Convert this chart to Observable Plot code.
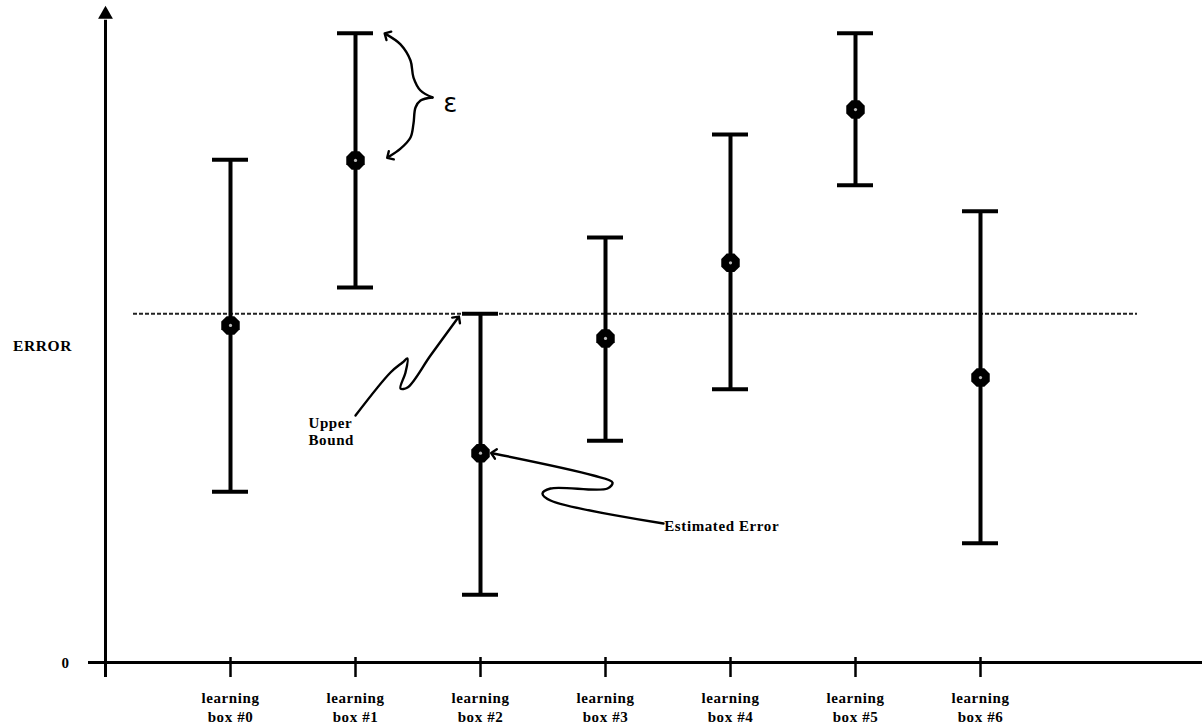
<!DOCTYPE html>
<html>
<head>
<meta charset="utf-8">
<script src="https://cdn.jsdelivr.net/npm/d3@7"></script>
<script src="https://cdn.jsdelivr.net/npm/@observablehq/plot@0.6"></script>
<style>
  html, body { margin: 0; padding: 0; background: #fff; }
  #chart svg { display: block; }
  #chart svg text { letter-spacing: 0.6px; }
</style>
</head>
<body>
<div id="chart"></div>
<script>
// ---- data ----
const boxLabels = ["learning\nbox #0", "learning\nbox #1", "learning\nbox #2", "learning\nbox #3", "learning\nbox #4", "learning\nbox #5", "learning\nbox #6"];
const estimatedError = [51.7, 77.0, 32.1, 49.7, 61.3, 84.8, 43.7];
const lowerValues = [26.2, 57.5, 10.4, 34.0, 41.9, 73.2, 18.3];
const upperValues = [77.1, 96.5, 53.5, 65.2, 81.0, 96.5, 69.2];
const upperBound = 53.5;
const yTickLabels = ["0"];
const yAxisTitle = "ERROR";

// annotation paths (data units)
const braceTopX = [1.616, 1.52, 1.464, 1.44, 1.36, 1.25];
const braceTopY = [86.66, 87.73, 89.72, 92.33, 94.8, 96.3];
const braceBottomX = [1.616, 1.52, 1.48, 1.464, 1.44, 1.36, 1.27];
const braceBottomY = [86.66, 86.20, 85.12, 82.67, 80.52, 78.8, 77.6];
const boundArrowX = [1.0, 1.28, 1.376, 1.416, 1.4, 1.36, 1.416, 1.6, 1.816];
const boundArrowY = [37.88, 44.48, 46.01, 46.63, 44.48, 42.02, 42.18, 47.09, 52.76];
const estArrowX = [3.464, 2.56, 2.496, 2.56, 3.016, 3.056, 2.904, 2.104];
const estArrowY = [21.32, 24.85, 25.92, 26.69, 26.69, 27.61, 28.68, 32.06];

// ---- tables ----
const rows = boxLabels.map((label, i) => ({i, label, est: estimatedError[i], lo: lowerValues[i], hi: upperValues[i]}));
const path = (xs, ys) => xs.map((x, k) => ({x, y: ys[k]}));

const octagon = {
  draw(context, size) {
    const r = Math.sqrt(size / Math.PI);
    for (let k = 0; k < 8; ++k) {
      const a = Math.PI / 8 + k * Math.PI / 4;
      const px = r * Math.cos(a), py = r * Math.sin(a);
      if (k) context.lineTo(px, py); else context.moveTo(px, py);
    }
    context.closePath();
  }
};

const serif = "'Liberation Serif', 'DejaVu Serif', serif";
const arrowLine = (xs, ys) => Plot.line(path(xs, ys), {x: "x", y: "y", curve: "catmull-rom", stroke: "#000", strokeWidth: 2.4, markerEnd: "arrow"});

const chart = Plot.plot({
  width: 1202,
  height: 725,
  marginTop: 0, marginRight: 0, marginBottom: 0, marginLeft: 0,
  style: {background: "#fff", fontFamily: serif, color: "#000"},
  x: {type: "linear", domain: [-1, 7], range: [105, 1105], axis: null},
  y: {type: "linear", domain: [0, 100], range: [662, 10], axis: null},
  marks: [
    // axes
    Plot.ruleY([0], {x1: -1.136, x2: 7.78, stroke: "#000", strokeWidth: 3}),
    Plot.ruleX([-1], {y1: -2.3, y2: 98.5, stroke: "#000", strokeWidth: 3}),
    Plot.dot([{x: -1, y: 99.4}], {x: "x", y: "y", symbol: "triangle", r: 5.5, fill: "#000", stroke: "none"}),
    Plot.ruleX(rows, {x: "i", y1: -2.3, y2: 0.77, stroke: "#000", strokeWidth: 2.5}),
    Plot.text(rows, {x: "i", y: 0, text: "label", dy: 44, lineAnchor: "middle", lineHeight: 1.27, fontSize: 15, fontWeight: "bold", fill: "#000"}),
    Plot.text(yTickLabels, {x: -1.32, y: 0, text: d => d, dy: 1, fontSize: 15, fontWeight: "bold", fill: "#000"}),
    Plot.text([yAxisTitle], {x: -1.504, y: 48.47, text: d => d, fontSize: 15.5, fontWeight: "bold", fill: "#000"}),
    // upper bound dashed line
    Plot.ruleY([upperBound], {x1: -0.776, x2: 7.256, stroke: "#222", strokeWidth: 2, strokeDasharray: "4,2"}),
    // error bars
    Plot.ruleX(rows, {x: "i", y1: "lo", y2: "hi", stroke: "#000", strokeWidth: 4}),
    Plot.ruleY(rows, {y: "hi", x1: d => d.i - 0.144, x2: d => d.i + 0.144, stroke: "#000", strokeWidth: 4}),
    Plot.ruleY(rows, {y: "lo", x1: d => d.i - 0.144, x2: d => d.i + 0.144, stroke: "#000", strokeWidth: 4}),
    Plot.dot(rows, {x: "i", y: "est", symbol: octagon, r: 10, fill: "#000", stroke: "none"}),
    Plot.dot(rows, {x: "i", y: "est", r: 1.6, fill: "#bbb", stroke: "none"}),
    // annotations
    arrowLine(braceTopX, braceTopY),
    arrowLine(braceBottomX, braceBottomY),
    Plot.text(["ε"], {x: 1.76, y: 85.7, text: d => d, fontSize: 26, fontFamily: "'DejaVu Sans', sans-serif", fill: "#000"}),
    arrowLine(boundArrowX, boundArrowY),
    Plot.text(["Upper\nBound"], {x: 0.624, y: 35.5, text: d => d, textAnchor: "start", lineAnchor: "middle", lineHeight: 1.1, fontSize: 15, fontWeight: "bold", fill: "#000"}),
    arrowLine(estArrowX, estArrowY),
    Plot.text(["Estimated Error"], {x: 3.47, y: 20.9, text: d => d, textAnchor: "start", fontSize: 15, fontWeight: "bold", fill: "#000"})
  ]
});
document.getElementById("chart").appendChild(chart);
</script>
</body>
</html>
